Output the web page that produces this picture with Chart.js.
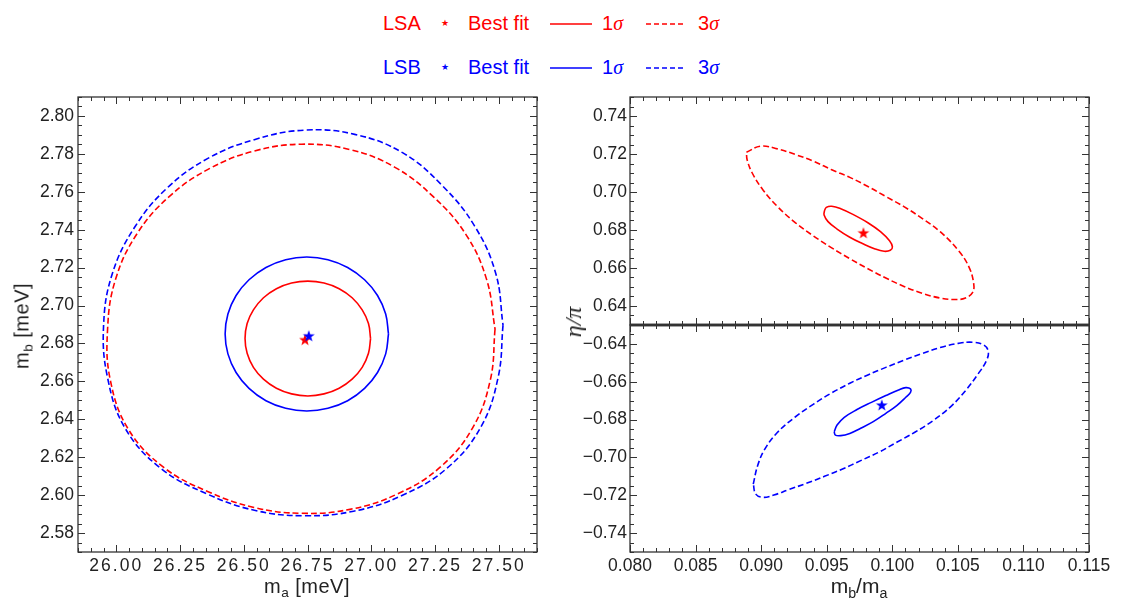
<!DOCTYPE html>
<html>
<head>
<meta charset="utf-8">
<script src="https://cdn.jsdelivr.net/npm/chart.js@4.4.1/dist/chart.umd.min.js"></script>
<style>
  body { margin: 0; background: #fff; width: 1129px; height: 601px; overflow: hidden; position: relative;
         font-family: "Liberation Sans", Arial, sans-serif; }
  canvas { position: absolute; }
  .leg { position: absolute; font-size: 20px; line-height: 24px; white-space: nowrap; }
  .red { color: #ff0000; }
  .blue { color: #0000ff; }
  .sig { font-family: "Liberation Serif", serif; font-style: italic; }
  .star { font-family: "DejaVu Sans", sans-serif; font-size: 9px; line-height: 24px; }
  .ttl { position: absolute; white-space: nowrap; color: #222; font-size: 20px; line-height: 24px;
         transform: translate(-50%, -50%); }
  .ttl.rot { transform: translate(-50%, -50%) rotate(-90deg); }
  .sub { font-size: 0.68em; position: relative; top: 0.32em; }
</style>
</head>
<body>

<!-- legend -->
<div class="leg red" style="left:383px;top:11px">LSA</div>
<div class="leg red star" style="left:441px;top:11px">&#9733;</div>
<div class="leg red" style="left:468px;top:11px">Best fit</div>
<svg style="position:absolute;left:550px;top:22px" width="42" height="4"><line x1="0" y1="2" x2="42" y2="2" stroke="#ff0000" stroke-width="1.6"/></svg>
<div class="leg red" style="left:602px;top:11px">1<span class="sig">σ</span></div>
<svg style="position:absolute;left:646px;top:22px" width="40" height="4"><line x1="0" y1="2" x2="40" y2="2" stroke="#ff0000" stroke-width="1.6" stroke-dasharray="5 3"/></svg>
<div class="leg red" style="left:698px;top:11px">3<span class="sig">σ</span></div>

<div class="leg blue" style="left:383px;top:55px">LSB</div>
<div class="leg blue star" style="left:441px;top:55px">&#9733;</div>
<div class="leg blue" style="left:468px;top:55px">Best fit</div>
<svg style="position:absolute;left:550px;top:66px" width="42" height="4"><line x1="0" y1="2" x2="42" y2="2" stroke="#0000ff" stroke-width="1.6"/></svg>
<div class="leg blue" style="left:602px;top:55px">1<span class="sig">σ</span></div>
<svg style="position:absolute;left:646px;top:66px" width="40" height="4"><line x1="0" y1="2" x2="40" y2="2" stroke="#0000ff" stroke-width="1.6" stroke-dasharray="5 3"/></svg>
<div class="leg blue" style="left:698px;top:55px">3<span class="sig">σ</span></div>

<canvas id="cMass" width="545" height="531" style="left:0;top:70px"></canvas>
<canvas id="cPos" width="569" height="280" style="left:560px;top:70px"></canvas>
<canvas id="cNeg" width="569" height="301" style="left:560px;top:300px"></canvas>

<!-- axis titles -->
<div class="ttl" style="left:307px;top:587px;letter-spacing:0.5px">m<span class="sub">a</span> [meV]</div>
<div class="ttl rot" style="left:23px;top:326px;letter-spacing:0.5px">m<span class="sub">b</span> [meV]</div>
<div class="ttl" style="left:859px;top:587px;font-size:21px">m<span class="sub">b</span>/m<span class="sub">a</span></div>
<div class="ttl rot" style="left:573px;top:322px;font-family:'Liberation Serif',serif;font-style:italic;font-size:24px">η/π</div>

<script>
// tick labels
const maTicks = [26.00, 26.25, 26.50, 26.75, 27.00, 27.25, 27.50];
const mbTicks = [2.58, 2.60, 2.62, 2.64, 2.66, 2.68, 2.70, 2.72, 2.74, 2.76, 2.78, 2.80];
const ratioTicks = [0.080, 0.085, 0.090, 0.095, 0.100, 0.105, 0.110, 0.115];
const etaPosTicks = [0.64, 0.66, 0.68, 0.70, 0.72, 0.74];
const etaNegTicks = [-0.74, -0.72, -0.70, -0.68, -0.66, -0.64];

// left panel: m_a vs m_b [meV]
const lsaBestMass = [[26.740, 2.682]];
const lsbBestMass = [[26.755, 2.684]];
const lsa1sigMass = [
  [26.9973, 2.6826], [26.9891, 2.6748], [26.9645, 2.6674], [26.9250, 2.6612], [26.8742, 2.6564],
  [26.8148, 2.6534], [26.7512, 2.6523], [26.6875, 2.6534], [26.6281, 2.6564], [26.5773, 2.6612],
  [26.5379, 2.6674], [26.5133, 2.6748], [26.5051, 2.6826], [26.5133, 2.6905], [26.5379, 2.6977],
  [26.5773, 2.7041], [26.6281, 2.7089], [26.6875, 2.7119], [26.7512, 2.7129], [26.8148, 2.7119],
  [26.8742, 2.7089], [26.9250, 2.7041], [26.9645, 2.6977], [26.9891, 2.6905]
];
const lsb1sigMass = [
  [27.0676, 2.6850], [27.0566, 2.6745], [27.0246, 2.6647], [26.9738, 2.6563], [26.9074, 2.6498],
  [26.8301, 2.6458], [26.7473, 2.6444], [26.6645, 2.6458], [26.5871, 2.6498], [26.5207, 2.6563],
  [26.4699, 2.6647], [26.4379, 2.6745], [26.4270, 2.6850], [26.4379, 2.6955], [26.4699, 2.7053],
  [26.5207, 2.7136], [26.5871, 2.7201], [26.6645, 2.7242], [26.7473, 2.7256], [26.8301, 2.7242],
  [26.9074, 2.7201], [26.9738, 2.7136], [27.0246, 2.7053], [27.0566, 2.6955]
];
const lsa3sigMass = [
  [27.4855, 2.6876], [27.4672, 2.6609], [27.3977, 2.6355], [27.2691, 2.6146], [27.1008, 2.6005],
  [26.9168, 2.5925], [26.7277, 2.5904], [26.5406, 2.5935], [26.3605, 2.6018], [26.1863, 2.6146],
  [26.0477, 2.6347], [25.9770, 2.6605], [25.9660, 2.6876], [25.9977, 2.7140], [26.0816, 2.7379],
  [26.2086, 2.7576], [26.3652, 2.7722], [26.5410, 2.7815], [26.7277, 2.7851], [26.9156, 2.7823],
  [27.0930, 2.7729], [27.2441, 2.7573], [27.3703, 2.7377], [27.4523, 2.7138]
];
const lsb3sigMass = [
  [27.5168, 2.6897], [27.4977, 2.6622], [27.4289, 2.6357], [27.2961, 2.6141], [27.1203, 2.5998],
  [26.9305, 2.5915], [26.7355, 2.5891], [26.5414, 2.5920], [26.3547, 2.6007], [26.1750, 2.6141],
  [26.0352, 2.6352], [25.9660, 2.6619], [25.9504, 2.6897], [25.9848, 2.7169], [26.0727, 2.7414],
  [26.1996, 2.7620], [26.3594, 2.7776], [26.5414, 2.7875], [26.7355, 2.7925], [26.9352, 2.7903],
  [27.1242, 2.7805], [27.2797, 2.7631], [27.4055, 2.7419], [27.4883, 2.7169]
];

// right panels: m_b/m_a vs eta/pi
const lsaBestRatio = [[0.0978, 0.6785]];
const lsa1sigRatio = [
  [0.09483, 0.6902], [0.09497, 0.6919], [0.09538, 0.6925], [0.09607, 0.6912], [0.09703, 0.6881],
  [0.09814, 0.6838], [0.09910, 0.6791], [0.09979, 0.6743], [0.10001, 0.6711], [0.09985, 0.6693],
  [0.09938, 0.6688], [0.09869, 0.6700], [0.09772, 0.6729], [0.09676, 0.6762], [0.09579, 0.6805],
  [0.09510, 0.6844], [0.09480, 0.6879]
];
const lsa3sigRatio = [
  [0.08888, 0.7209], [0.08995, 0.7241], [0.09125, 0.7227], [0.09262, 0.7197], [0.09400, 0.7162],
  [0.09538, 0.7117], [0.09676, 0.7077], [0.09814, 0.7029], [0.09951, 0.6976], [0.10089, 0.6923],
  [0.10227, 0.6861], [0.10365, 0.6791], [0.10503, 0.6693], [0.10585, 0.6605], [0.10621, 0.6517],
  [0.10613, 0.6472], [0.10558, 0.6442], [0.10489, 0.6434], [0.10365, 0.6442], [0.10227, 0.6467],
  [0.10089, 0.6503], [0.09951, 0.6547], [0.09814, 0.6596], [0.09676, 0.6649], [0.09538, 0.6706],
  [0.09400, 0.6768], [0.09262, 0.6838], [0.09125, 0.6923], [0.09014, 0.7011], [0.08932, 0.7100],
  [0.08893, 0.7170]
];
const lsbBestRatio = [[0.0992, -0.6723]];
const lsb1sigRatio = [
  [0.09557, -0.6864], [0.09579, -0.6829], [0.09634, -0.6788], [0.09731, -0.6747], [0.09841, -0.6709],
  [0.09951, -0.6673], [0.10048, -0.6643], [0.10103, -0.6631], [0.10139, -0.6638], [0.10139, -0.6656],
  [0.10103, -0.6682], [0.10034, -0.6726], [0.09951, -0.6767], [0.09855, -0.6811], [0.09759, -0.6846],
  [0.09676, -0.6873], [0.09607, -0.6885], [0.09566, -0.6882]
];
const lsb3sigRatio = [
  [0.08940, -0.7141], [0.08973, -0.7044], [0.09028, -0.6956], [0.09125, -0.6867], [0.09262, -0.6785],
  [0.09400, -0.6718], [0.09538, -0.6659], [0.09676, -0.6608], [0.09814, -0.6564], [0.09951, -0.6524],
  [0.10089, -0.6486], [0.10227, -0.6451], [0.10365, -0.6419], [0.10503, -0.6397], [0.10613, -0.6391],
  [0.10696, -0.6405], [0.10732, -0.6439], [0.10718, -0.6488], [0.10654, -0.6559], [0.10558, -0.6647],
  [0.10448, -0.6730], [0.10310, -0.6806], [0.10172, -0.6867], [0.10034, -0.6920], [0.09896, -0.6973],
  [0.09759, -0.7017], [0.09621, -0.7061], [0.09483, -0.7100], [0.09345, -0.7137], [0.09207, -0.7171],
  [0.09097, -0.7199], [0.09014, -0.7211], [0.08959, -0.7194]
];

const RED = '#ff0000';
const BLUE = '#0000ff';

Chart.defaults.font.family = '"Liberation Sans", Arial, sans-serif';

// filled five-point star used as point marker
function starIcon(color) {
  const c = document.createElement('canvas');
  c.width = 14; c.height = 14;
  const g = c.getContext('2d');
  g.fillStyle = color;
  g.beginPath();
  for (let i = 0; i < 10; i++) {
    const r = i % 2 ? 2.5 : 6.2;
    const a = -Math.PI / 2 + i * Math.PI / 5;
    g.lineTo(7 + r * Math.cos(a), 7.5 + r * Math.sin(a));
  }
  g.closePath();
  g.fill();
  return c;
}

function toPts(arr) {
  return arr.map(([x, y]) => ({ x, y }));
}

function ring(arr, color, dashed) {
  return {
    data: toPts(arr.concat([arr[0]])),
    showLine: true,
    borderColor: color,
    borderWidth: 1.6,
    borderDash: dashed ? [6, 3] : [],
    pointRadius: 0,
    tension: 0.4,
    fill: false
  };
}

function best(arr, color) {
  return {
    data: toPts(arr),
    showLine: false,
    pointStyle: starIcon(color),
    pointRadius: 6
  };
}

function axis(min, max, tickVals, digits, size, isX, showLabels, pad) {
  return {
    type: 'linear',
    min: min,
    max: max,
    grid: { display: false, drawTicks: false },
    border: { display: false },
    afterBuildTicks: s => { s.ticks = tickVals.map(v => ({ value: v })); },
    afterFit: s => { if (isX) s.height = size; else s.width = size; },
    ticks: {
      display: showLabels,
      autoSkip: false,
      maxRotation: 0,
      padding: pad,
      color: '#222',
      font: { size: 17.5 },
      callback: v => v.toFixed(digits).replace('-', '\u2212')
    }
  };
}

// frame with inward major/minor ticks on all four sides
const framePlugin = {
  id: 'frame',
  afterDatasetsDraw(chart, args, o) {
    const { ctx, chartArea: a } = chart;
    const sx = chart.scales.x, sy = chart.scales.y;
    function marks(scale, step, majors) {
      const out = [];
      for (let k = Math.ceil(scale.min / step - 1e-6); k * step <= scale.max + 1e-9; k++) {
        const v = k * step;
        out.push({ v: v, major: majors.some(t => Math.abs(t - v) < step / 10) });
      }
      return out;
    }
    ctx.save();
    ctx.strokeStyle = '#333';
    ctx.lineWidth = 1;
    ctx.beginPath();
    marks(sx, o.minorX, o.majorX).forEach(t => {
      const px = Math.round(sx.getPixelForValue(t.v)) + 0.5;
      const len = t.major ? 7 : 4;
      ctx.moveTo(px, a.bottom); ctx.lineTo(px, a.bottom - len);
      ctx.moveTo(px, a.top); ctx.lineTo(px, a.top + len);
    });
    marks(sy, o.minorY, o.majorY).forEach(t => {
      const py = Math.round(sy.getPixelForValue(t.v)) + 0.5;
      const len = t.major ? 7 : 4;
      ctx.moveTo(a.left, py); ctx.lineTo(a.left + len, py);
      ctx.moveTo(a.right, py); ctx.lineTo(a.right - len, py);
    });
    ctx.stroke();
    ctx.lineWidth = 1.3;
    ctx.strokeRect(a.left, a.top, a.right - a.left, a.bottom - a.top);
    if (o.thick) {
      const yy = o.thick === 'bottom' ? a.bottom : a.top;
      ctx.lineWidth = 2.4;
      ctx.beginPath();
      ctx.moveTo(a.left, yy); ctx.lineTo(a.right, yy);
      ctx.stroke();
    }
    ctx.restore();
  }
};

// the x labels of the mass panel are set wider in the reference
const wideXLabels = {
  id: 'wideXLabels',
  beforeDraw(chart) {
    const s = chart.scales.x;
    if (s._wide) return;
    const draw = s.drawLabels.bind(s);
    s.drawLabels = function (area) {
      chart.ctx.save();
      chart.ctx.letterSpacing = '2px';
      draw(area);
      chart.ctx.restore();
    };
    s._wide = true;
  }
};

function makeChart(id, datasets, scales, padding, frame, extra) {
  return new Chart(document.getElementById(id), {
    type: 'scatter',
    data: { datasets: datasets },
    options: {
      responsive: false,
      animation: false,
      events: [],
      layout: { padding: padding },
      scales: scales,
      plugins: { legend: { display: false }, tooltip: { enabled: false }, frame: frame }
    },
    plugins: [framePlugin].concat(extra || [])
  });
}

makeChart('cMass',
  [best(lsbBestMass, BLUE), best(lsaBestMass, RED),
   ring(lsb1sigMass, BLUE, false), ring(lsa1sigMass, RED, false),
   ring(lsb3sigMass, BLUE, true), ring(lsa3sigMass, RED, true)],
  { x: axis(25.85, 27.65, maTicks, 2, 49, true, true, 4),
    y: axis(2.57, 2.81, mbTicks, 2, 78, false, true, 4) },
  { top: 27, right: 8, left: 0, bottom: 0 },
  { minorX: 0.05, minorY: 0.005, majorX: maTicks, majorY: mbTicks },
  [wideXLabels]);

makeChart('cPos',
  [best(lsaBestRatio, RED), ring(lsa1sigRatio, RED, false), ring(lsa3sigRatio, RED, true)],
  { x: axis(0.080, 0.115, ratioTicks, 3, 0, true, false, 0),
    y: axis(0.63, 0.75, etaPosTicks, 2, 70, false, true, 3) },
  { top: 27, right: 40, left: 0, bottom: 25 },
  { minorX: 0.001, minorY: 0.005, majorX: ratioTicks, majorY: etaPosTicks, thick: 'bottom' });

makeChart('cNeg',
  [best(lsbBestRatio, BLUE), ring(lsb1sigRatio, BLUE, false), ring(lsb3sigRatio, BLUE, true)],
  { x: axis(0.080, 0.115, ratioTicks, 3, 49, true, true, 4),
    y: axis(-0.75, -0.63, etaNegTicks, 2, 70, false, true, 3) },
  { top: 25, right: 40, left: 0, bottom: 0 },
  { minorX: 0.001, minorY: 0.005, majorX: ratioTicks, majorY: etaNegTicks, thick: 'top' });
</script>
</body>
</html>
